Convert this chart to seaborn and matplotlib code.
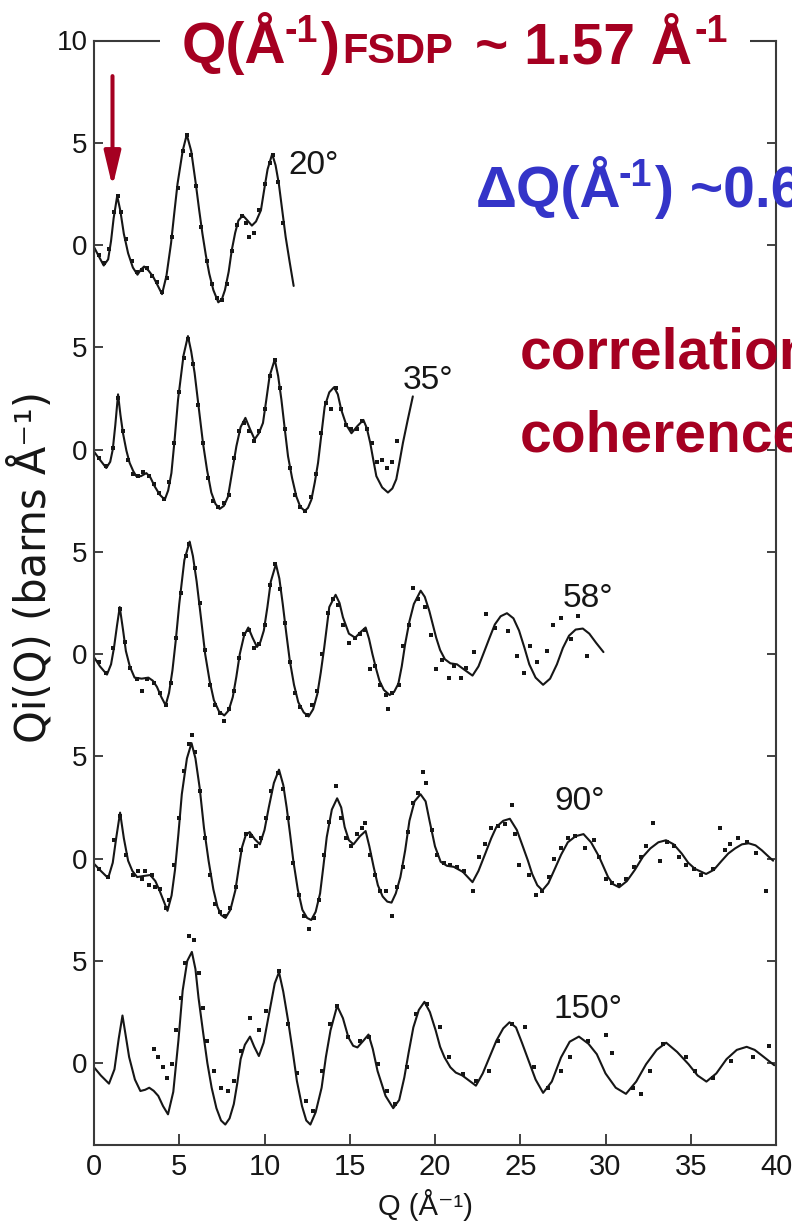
import matplotlib
matplotlib.use("Agg")
import matplotlib.pyplot as plt
import numpy as np
import pandas as pd
import seaborn as sns
from matplotlib import font_manager
from matplotlib.patches import Rectangle, FancyArrowPatch

# ---------------- data: (Q, Qi(Q)) pairs ----------------
ANGLES = ["20°", "35°", "58°", "90°", "150°"]
OFFSETS = [40, 30, 20, 10, 0]

# solid model curves
LINE_20 = [(0, -0.1), (0.25, -0.5), (0.57, -1.0), (0.83, -0.7), (1.0, 0.2), (1.15, 1.3), (1.36, 2.4), (1.54, 1.7),
           (1.75, 0.55), (2.0, -0.4), (2.28, -1.1), (2.55, -1.45), (2.75, -1.2), (2.94, -1.05), (3.2, -1.25),
           (3.47, -1.55), (3.75, -2.0), (3.99, -2.4), (4.25, -1.5), (4.52, 0.1), (4.7, 1.5), (4.9, 3.0), (5.2, 4.6),
           (5.44, 5.4), (5.7, 4.6), (5.97, 3.0), (6.17, 1.7), (6.36, 0.55), (6.56, -0.5), (6.76, -1.4), (7.0, -2.2),
           (7.29, -2.8), (7.5, -2.65), (7.68, -2.2), (7.9, -1.3), (8.08, -0.25), (8.28, 0.6), (8.47, 1.2),
           (8.73, 1.45), (9.0, 1.2), (9.26, 0.95), (9.5, 1.15), (9.79, 1.7), (10.0, 2.8), (10.18, 3.7),
           (10.45, 4.45), (10.65, 3.9), (10.84, 3.0), (11.04, 1.7), (11.24, 0.4), (11.47, -0.8), (11.71, -2.0)]

LINE_35 = [(0, -0.1), (0.35, -0.5), (0.72, -0.9), (0.95, -0.6), (1.1, 0.0), (1.25, 1.2), (1.41, 2.7), (1.55, 1.7),
           (1.7, 0.8), (1.9, -0.05), (2.09, -0.65), (2.3, -1.05), (2.48, -1.3), (2.75, -1.3), (3.07, -1.15),
           (3.3, -1.35), (3.56, -1.8), (3.85, -2.2), (4.15, -2.45), (4.35, -2.0), (4.54, -1.15), (4.73, 0.5),
           (4.93, 2.45), (5.25, 4.6), (5.51, 5.55), (5.7, 4.8), (5.9, 3.75), (6.15, 2.0), (6.39, 0.33),
           (6.63, -1.0), (6.88, -2.1), (7.12, -2.65), (7.37, -2.9), (7.62, -2.75), (7.86, -2.3), (8.1, -1.1),
           (8.35, 0.16), (8.6, 1.1), (8.88, 1.55), (9.15, 1.0), (9.42, 0.5), (9.67, 0.8), (9.91, 1.3), (10.1, 2.4),
           (10.3, 3.6), (10.6, 4.4), (10.8, 3.6), (10.99, 2.45), (11.19, 1.0), (11.38, -0.33), (11.62, -1.4),
           (11.87, -2.3), (12.1, -2.8), (12.36, -3.0), (12.55, -2.85), (12.75, -2.45), (12.95, -1.6),
           (13.14, -0.65), (13.33, 0.7), (13.53, 2.1), (13.8, 2.8), (14.08, 3.05), (14.3, 2.7), (14.5, 1.95),
           (14.8, 1.2), (15.1, 0.8), (15.45, 1.15), (15.8, 1.45), (16.0, 1.05), (16.2, 0.33), (16.38, -0.5),
           (16.56, -1.3), (16.9, -1.85), (17.24, -2.1), (17.5, -1.9), (17.73, -1.45), (17.92, -0.6), (18.12, 0.33),
           (18.4, 1.45), (18.7, 2.6)]

LINE_58 = [(0, -0.15), (0.35, -0.6), (0.76, -1.0), (1.0, -0.5), (1.17, 0.3), (1.35, 1.4), (1.51, 2.3), (1.7, 1.2),
           (1.87, 0.15), (2.1, -0.6), (2.38, -1.15), (2.8, -1.2), (3.19, -1.15), (3.45, -1.3), (3.69, -1.6),
           (3.95, -2.1), (4.2, -2.5), (4.4, -1.9), (4.6, -0.8), (4.8, 0.7), (5.0, 2.45), (5.3, 4.6), (5.61, 5.5),
           (5.8, 4.8), (6.02, 3.55), (6.27, 1.8), (6.52, 0.0), (6.78, -1.3), (7.03, -2.25), (7.33, -2.8),
           (7.64, -3.0), (7.9, -2.75), (8.14, -2.1), (8.35, -1.1), (8.55, 0.0), (8.8, 0.9), (9.05, 1.3), (9.3, 0.8),
           (9.56, 0.35), (9.76, 0.6), (9.96, 1.15), (10.17, 2.3), (10.37, 3.55), (10.67, 4.4), (10.87, 3.7),
           (11.07, 2.45), (11.28, 1.0), (11.48, -0.3), (11.73, -1.5), (11.98, -2.35), (12.3, -2.85), (12.59, -3.05),
           (12.85, -2.7), (13.1, -1.95), (13.3, -0.9), (13.5, 0.3), (13.8, 2.3), (14.17, 2.9), (14.4, 2.5),
           (14.6, 1.8), (14.95, 1.0), (15.32, 0.8), (15.6, 1.05), (15.93, 1.3), (16.13, 0.75), (16.33, 0.0),
           (16.54, -0.7), (16.74, -1.3), (17.0, -1.75), (17.34, -2.0), (17.6, -1.85), (17.85, -1.45), (18.05, -0.6),
           (18.25, 0.5), (18.5, 1.6), (18.76, 2.45), (19.16, 3.1), (19.4, 2.8), (19.67, 2.1), (20.07, 0.8),
           (20.3, 0.2), (20.58, -0.25), (20.9, -0.45), (21.29, -0.5), (21.7, -0.75), (22.2, -1.05), (22.55, -0.6),
           (22.9, 0.15), (23.2, 0.8), (23.51, 1.45), (23.85, 1.85), (24.22, 2.0), (24.6, 1.75), (24.93, 1.15),
           (25.25, 0.3), (25.53, -0.5), (25.9, -1.15), (26.34, -1.5), (26.75, -1.2), (27.15, -0.5), (27.5, 0.3),
           (27.86, 0.9), (28.25, 1.2), (28.67, 1.25), (29.05, 1.0), (29.45, 0.55), (29.88, 0.1)]

LINE_90 = [(0, -0.25), (0.4, -0.6), (0.83, -0.95), (1.1, -0.2), (1.3, 1.0), (1.53, 2.25), (1.75, 1.0), (2.0, -0.1),
           (2.25, -0.6), (2.53, -0.9), (2.9, -0.85), (3.3, -0.8), (3.6, -1.1), (3.84, -1.55), (4.1, -2.1),
           (4.31, -2.55), (4.55, -1.8), (4.75, -0.55), (4.95, 1.2), (5.15, 3.15), (5.45, 4.9), (5.72, 5.65),
           (5.95, 4.9), (6.2, 3.45), (6.45, 1.5), (6.72, -0.1), (7.0, -1.5), (7.24, -2.35), (7.45, -2.75),
           (7.71, -2.9), (8.0, -2.5), (8.29, -1.55), (8.5, -0.4), (8.68, 0.55), (8.9, 1.15), (9.13, 1.3),
           (9.43, 0.95), (9.73, 0.7), (10.0, 1.4), (10.25, 2.5), (10.55, 3.7), (10.85, 4.35), (11.1, 3.6),
           (11.3, 2.5), (11.5, 1.2), (11.69, -0.1), (11.95, -1.5), (12.22, -2.5), (12.5, -2.9), (12.74, -3.0),
           (13.0, -2.6), (13.26, -1.7), (13.45, -0.4), (13.65, 1.05), (13.95, 2.4), (14.26, 2.95), (14.5, 2.5),
           (14.7, 1.55), (14.95, 0.9), (15.22, 0.7), (15.6, 1.1), (15.93, 1.35), (16.15, 0.6), (16.4, -0.4),
           (16.65, -1.3), (16.93, -1.85), (17.2, -2.1), (17.45, -2.15), (17.7, -1.7), (17.97, -0.9), (18.25, 0.4),
           (18.5, 1.85), (18.8, 2.8), (19.15, 3.15), (19.45, 2.8), (19.68, 1.85), (20.0, 0.6), (20.33, -0.15),
           (20.7, -0.35), (21.1, -0.4), (21.64, -0.65), (22.2, -1.15), (22.55, -0.6), (22.95, 0.25), (23.3, 1.0),
           (23.6, 1.55), (24.0, 1.85), (24.39, 1.95), (24.8, 1.4), (25.17, 0.55), (25.45, -0.1), (25.7, -0.75),
           (26.0, -1.3), (26.3, -1.55), (26.65, -1.2), (27.0, -0.55), (27.4, 0.2), (27.79, 0.8), (28.25, 1.1),
           (28.71, 1.2), (29.15, 0.8), (29.62, 0.1), (30.15, -0.9), (30.45, -1.25), (30.8, -1.4), (31.25, -1.1),
           (31.72, -0.55), (32.2, 0.1), (32.63, 0.5), (33.1, 0.8), (33.55, 0.9), (34.0, 0.7), (34.47, 0.25),
           (34.85, -0.2), (35.25, -0.5), (35.9, -0.75), (36.35, -0.55), (36.82, -0.1), (37.2, 0.25), (37.6, 0.5),
           (38.0, 0.7), (38.4, 0.75), (38.8, 0.65), (39.18, 0.4), (39.5, 0.15), (39.83, -0.1)]

LINE_150 = [(0, -0.2), (0.4, -0.6), (0.88, -1.0), (1.2, -0.3), (1.45, 1.2), (1.67, 2.33), (1.85, 1.4), (2.06, 0.3),
            (2.4, -0.8), (2.72, -1.36), (3.0, -1.3), (3.24, -1.2), (3.5, -1.35), (3.77, -1.6), (4.05, -2.1),
            (4.34, -2.5), (4.65, -1.4), (4.95, 1.1), (5.2, 3.55), (5.47, 5.0), (5.74, 5.44), (5.95, 4.6), (6.13, 3.2),
            (6.4, 1.5), (6.65, 0.0), (6.9, -1.2), (7.18, -2.2), (7.45, -2.8), (7.7, -3.0), (7.95, -2.7), (8.2, -2.0),
            (8.4, -1.0), (8.6, 0.2), (8.85, 0.9), (9.15, 1.3), (9.4, 0.8), (9.67, 0.35), (9.95, 1.0), (10.33, 2.7),
            (10.6, 3.9), (10.85, 4.45), (11.1, 3.5), (11.38, 2.1), (11.65, 0.6), (11.9, -0.87), (12.2, -2.1),
            (12.45, -2.8), (12.69, -3.0), (13.0, -2.4), (13.35, -1.2), (13.6, 0.3), (13.87, 1.6), (14.26, 2.8),
            (14.6, 2.2), (14.92, 1.26), (15.2, 0.85), (15.45, 0.77), (15.8, 1.1), (16.1, 1.4), (16.35, 0.7),
            (16.63, -0.38), (17.1, -1.6), (17.55, -2.2), (17.9, -1.8), (18.2, -0.7), (18.45, 0.5), (18.73, 1.75),
            (19.05, 2.6), (19.38, 3.0), (19.7, 2.5), (20.04, 1.6), (20.3, 0.8), (20.56, 0.28), (20.9, -0.2),
            (21.22, -0.46), (21.6, -0.6), (22.0, -0.85), (22.4, -1.1), (22.8, -0.5), (23.19, 0.28), (23.6, 1.1),
            (24.0, 1.7), (24.37, 2.0), (24.75, 1.75), (25.1, 1.0), (25.42, 0.28), (25.9, -0.8), (26.34, -1.45),
            (26.85, -0.9), (27.39, 0.28), (27.9, 1.05), (28.44, 1.3), (29.0, 0.95), (29.49, 0.44), (30.0, -0.5),
            (30.6, -1.2), (31.2, -1.5), (31.8, -0.9), (32.38, -0.05), (33.0, 0.65), (33.56, 1.0), (34.2, 0.55),
            (34.87, -0.05), (35.4, -0.6), (35.92, -0.9), (36.5, -0.5), (37.1, 0.2), (37.7, 0.65), (38.28, 0.8),
            (38.75, 0.65), (39.2, 0.36), (39.9, -0.1)]

# measured points (dots)
DOTS_20 = [(0.3, -0.5), (0.6, -0.9), (0.9, -0.2), (1.2, 1.6), (1.4, 2.4), (1.6, 1.6), (1.9, 0.3), (2.2, -0.8),
           (2.5, -1.3), (2.8, -1.2), (3.1, -1.1), (3.4, -1.5), (3.7, -1.8), (4.0, -2.3), (4.3, -1.6), (4.6, 0.4),
           (4.9, 2.8), (5.2, 4.6), (5.45, 5.4), (5.7, 4.4), (6.0, 2.9), (6.3, 0.9), (6.6, -0.8), (6.9, -1.9),
           (7.2, -2.6), (7.5, -2.7), (7.8, -1.9), (8.1, -0.3), (8.4, 1.0), (8.7, 1.4), (8.9, 1.1), (9.1, 0.4),
           (9.4, 0.6), (9.7, 1.7), (10.0, 3.0), (10.3, 4.0), (10.5, 4.4), (10.8, 3.1), (11.1, 1.1)]

DOTS_35 = [(0.3, -0.4), (0.7, -0.8), (1.1, 0.1), (1.4, 2.5), (1.7, 0.9), (2.0, -0.5), (2.3, -1.2), (2.6, -1.3),
           (2.9, -1.1), (3.2, -1.3), (3.5, -1.7), (3.8, -2.1), (4.1, -2.4), (4.4, -1.6), (4.7, 0.3), (5.0, 2.8),
           (5.3, 4.5), (5.5, 5.4), (5.8, 4.2), (6.1, 2.2), (6.4, 0.3), (6.7, -1.4), (7.0, -2.5), (7.3, -2.8),
           (7.6, -2.6), (7.9, -2.2), (8.2, -0.4), (8.5, 0.9), (8.8, 1.3), (9.1, 0.9), (9.4, 0.4), (9.7, 0.9),
           (10.0, 2.0), (10.3, 3.6), (10.6, 4.4), (10.9, 3.0), (11.2, 1.0), (11.5, -0.9), (11.8, -2.2), (12.1, -2.8),
           (12.4, -3.0), (12.7, -2.3), (13.0, -1.2), (13.3, 0.8), (13.6, 2.3), (13.9, 2.0), (14.2, 3.0), (14.5, 2.0),
           (14.8, 1.2), (15.1, 1.0), (15.4, 1.0), (15.7, 1.4), (16.0, 1.0), (16.3, 0.3), (16.6, -0.6), (16.9, -0.5),
           (17.2, -0.9), (17.5, -0.6), (17.8, 0.4)]

DOTS_58 = [(0.3, -0.4), (0.7, -0.9), (1.1, 0.3), (1.5, 2.2), (1.8, 0.6), (2.1, -0.7), (2.5, -1.2), (2.8, -1.8),
           (3.1, -1.2), (3.5, -1.4), (3.9, -1.9), (4.2, -2.5), (4.5, -1.4), (4.8, 0.8), (5.1, 3.0), (5.4, 4.8),
           (5.6, 5.4), (5.9, 4.2), (6.2, 2.5), (6.5, 0.2), (6.8, -1.5), (7.1, -2.5), (7.4, -2.9), (7.64, -3.25),
           (7.9, -2.7), (8.2, -1.8), (8.5, -0.2), (8.8, 1.0), (9.1, 1.2), (9.4, 0.3), (9.7, 0.5), (10.0, 1.4),
           (10.3, 3.4), (10.6, 4.4), (10.9, 3.2), (11.2, 1.5), (11.5, -0.4), (11.8, -1.9), (12.1, -2.6), (12.5, -3.0),
           (12.8, -2.5), (13.1, -1.8), (13.4, 0.0), (13.7, 2.0), (14.0, 2.7), (14.3, 2.4), (14.6, 1.4), (14.95, 0.55),
           (15.3, 0.8), (15.6, 1.0), (15.9, 1.2), (16.2, -0.75), (16.5, -0.6), (16.8, -1.5), (17.1, -2.0),
           (17.24, -2.7), (17.5, -1.9), (17.9, -1.5), (18.15, 0.4), (18.45, 1.4), (18.7, 3.25), (19.0, 2.7),
           (19.4, 2.3), (19.77, 0.95), (20.07, -0.75), (20.4, -0.3), (20.8, -1.15), (21.1, -0.6), (21.5, -1.15),
           (21.8, -0.7), (22.3, 0.1), (23.0, 1.95), (23.5, 1.3), (24.3, 1.15), (24.8, -0.1), (25.2, -0.9), (25.6, 0.4),
           (26.0, -0.4), (26.55, 0.15), (26.95, 1.4), (27.4, 1.75), (27.97, 0.75), (28.4, 1.85), (28.9, -0.1)]

DOTS_90 = [(0.3, -0.5), (0.8, -0.9), (1.2, 0.9), (1.5, 2.1), (1.9, 0.2), (2.3, -0.8), (2.6, -0.6), (2.8, -1.0),
           (3.0, -0.6), (3.2, -1.3), (3.4, -0.8), (3.6, -1.4), (3.9, -1.5), (4.2, -2.4), (4.4, -2.0), (4.7, -0.3),
           (5.0, 2.0), (5.3, 4.3), (5.6, 5.6), (5.72, 6.05), (5.9, 5.2), (6.2, 3.3), (6.5, 1.0), (6.8, -0.8),
           (7.1, -2.2), (7.4, -2.6), (7.7, -2.8), (8.0, -2.4), (8.3, -1.4), (8.6, 0.4), (8.9, 1.2), (9.2, 1.1),
           (9.5, 0.6), (9.8, 1.0), (10.1, 2.0), (10.4, 3.3), (10.8, 4.2), (11.1, 3.4), (11.4, 2.0), (11.7, -0.2),
           (12.0, -1.8), (12.3, -2.8), (12.6, -3.45), (12.9, -2.9), (13.2, -2.0), (13.5, 0.2), (13.8, 1.8),
           (14.2, 3.55), (14.5, 2.0), (14.8, 1.0), (15.1, 0.6), (15.4, 1.2), (15.7, 1.5), (15.9, 1.75), (16.2, 0.2),
           (16.5, -0.8), (16.8, -1.6), (17.1, -1.6), (17.45, -2.8), (17.8, -1.4), (18.1, -0.4), (18.4, 1.3),
           (18.7, 2.7), (19.0, 3.2), (19.3, 4.25), (19.5, 3.7), (19.8, 1.4), (20.1, 0.2), (20.5, -0.2), (20.9, -0.3),
           (21.3, -0.4), (21.7, -0.6), (22.2, -1.6), (22.6, 0.1), (22.95, 0.7), (23.3, 1.5), (23.7, 1.6), (24.1, 1.7),
           (24.5, 2.6), (24.7, 1.2), (24.9, -0.3), (25.5, -0.8), (25.9, -1.8), (26.3, -1.6), (26.7, -0.9), (27.0, 0.0),
           (27.4, 0.5), (27.8, 1.0), (28.2, 1.1), (28.8, 0.5), (29.3, 0.9), (29.6, 0.1), (30.0, -1.0), (30.4, -1.2),
           (30.8, -1.3), (31.2, -1.0), (31.7, -0.4), (32.1, 0.1), (32.4, 0.6), (32.8, 1.75), (33.2, -0.1),
           (33.6, 0.8), (34.0, 0.6), (34.3, 0.1), (34.7, -0.3), (35.2, -0.5), (35.6, -0.8), (36.3, -0.5), (36.7, 1.5),
           (37.0, 0.4), (37.3, 0.7), (37.8, 1.0), (38.3, 0.8), (38.8, 0.3), (39.4, -1.6)]

DOTS_150 = [(3.5, 0.69), (3.77, 0.28), (4.03, -0.2), (4.3, -0.7), (4.55, -0.05), (4.82, 1.6), (5.08, 3.2),
            (5.34, 4.9), (5.6, 6.2), (5.87, 6.0), (6.13, 4.4), (6.39, 2.7), (6.65, 1.1), (7.05, -0.38), (7.44, -1.2),
            (7.84, -1.36), (8.23, -0.87), (8.62, 0.6), (9.15, 2.2), (9.67, 1.6), (10.07, 2.57), (10.85, 4.5),
            (11.38, 1.9), (11.9, -0.5), (12.43, -1.85), (12.82, -2.35), (13.35, -0.38), (13.87, 1.9), (14.26, 2.8),
            (14.92, 1.26), (15.58, 1.1), (16.1, 1.26), (16.63, -0.05), (17.16, -1.36), (17.68, -2.0), (18.33, -0.2),
            (18.86, 2.4), (19.52, 2.9), (20.3, 1.75), (20.83, 0.28), (21.62, -0.54), (22.4, -0.87), (23.19, -0.38),
            (23.7, 1.1), (24.5, 1.9), (25.29, 1.75), (25.8, -0.2), (26.6, -1.2), (27.39, -0.38), (27.91, 0.28),
            (28.96, 1.1), (30.0, 1.4), (30.4, 0.52), (31.6, -1.2), (32.1, -1.5), (32.6, -0.38), (33.4, 0.93),
            (34.7, 0.28), (35.26, -0.38), (36.3, -0.7), (37.35, 0.1), (38.66, 0.28), (39.6, 0.85)]

LINES = {"20°": LINE_20, "35°": LINE_35, "58°": LINE_58, "90°": LINE_90, "150°": LINE_150}
DOTS = {"20°": DOTS_20, "35°": DOTS_35, "58°": DOTS_58, "90°": DOTS_90, "150°": DOTS_150}

X_TICKS = [0, 5, 10, 15, 20, 25, 30, 35, 40]
Y_TICKS = [0, 5, 10, 15, 20, 25, 30, 35, 40, 45, 50]
Y_TICK_LABELS = ["0", "5", "0", "5", "0", "5", "0", "5", "0", "5", "10"]

# ---------------- style ----------------
sns.set_style("white")
names = {f.name for f in font_manager.fontManager.ttflist}
NARROW = "Liberation Sans Narrow" if "Liberation Sans Narrow" in names else "Liberation Sans"
plt.rcParams["font.family"] = ["Liberation Sans", "DejaVu Sans"]
plt.rcParams["axes.unicode_minus"] = False

RED = "#A50021"
BLUE = "#3434C8"
INK = "#161616"

W, H = 792, 1227
fig = plt.figure(figsize=(W / 100, H / 100), dpi=100)
ax = fig.add_axes([94 / W, 82 / H, 682 / W, 1104.5 / H])

line_rows, dot_rows = [], []
for ang, off in zip(ANGLES, OFFSETS):
    for q, v in LINES[ang]:
        line_rows.append({"panel": ang, "Q": q, "y": v + off})
    for q, v in DOTS[ang]:
        dot_rows.append({"panel": ang, "Q": q, "y": v + off})
lines_df = pd.DataFrame(line_rows)
dots_df = pd.DataFrame(dot_rows)

sns.lineplot(data=lines_df, x="Q", y="y", units="panel", estimator=None, sort=False,
             color=INK, lw=1.5, ax=ax, legend=False)
sns.scatterplot(data=dots_df, x="Q", y="y", color=INK, s=9, marker="s", linewidth=0,
                ax=ax, legend=False, zorder=3)

ax.set_xlim(0, 40)
ax.set_ylim(-4, 50)
ax.set_xticks(X_TICKS)
ax.set_xticklabels([str(t) for t in X_TICKS])
ax.set_yticks(Y_TICKS)
ax.set_yticklabels(Y_TICK_LABELS)
ax.tick_params(axis="both", direction="in", width=1.3, color="#333333", labelcolor=INK)
ax.tick_params(axis="x", length=8, pad=6, labelsize=21, bottom=True, top=False)
ax.tick_params(axis="y", length=6.5, pad=4.5, labelsize=20, left=True, right=True)
for lab in ax.get_xticklabels() + ax.get_yticklabels():
    lab.set_fontfamily([NARROW, "DejaVu Sans"])
for side in ["left", "right", "top", "bottom"]:
    ax.spines[side].set_visible(True)
    ax.spines[side].set_linewidth(1.5)
    ax.spines[side].set_color("#3a3a3a")

ax.set_xlabel("Q (Å⁻¹)", fontsize=21, family=[NARROW, "DejaVu Sans"], color=INK)
ax.xaxis.set_label_coords(0.486, -0.040)
ax.set_ylabel("Qi(Q) (barns Å⁻¹)", fontsize=30, family=["DejaVu Sans"], color=INK)
ax.yaxis.set_label_coords(-0.058, 0.523)

# angle labels
ANGLE_POS = {"20°": (12.85, 43.9), "35°": (19.6, 33.4), "58°": (29.0, 22.7), "90°": (28.5, 12.8),
             "150°": (29.0, 2.64)}
for ang in ANGLES:
    x, y = ANGLE_POS[ang]
    ax.text(x, y, ang, ha="center", va="center", fontsize=24, color=INK,
            family=["Liberation Sans", "DejaVu Sans"])

# red arrow pointing at the FSDP
arrow = FancyArrowPatch((1.085, 48.26), (1.085, 42.84),
                        arrowstyle="-|>,head_length=21,head_width=5", mutation_scale=1,
                        lw=2.9, color=RED, shrinkA=0, shrinkB=0, zorder=6)
ax.add_patch(arrow)

# white box hiding the top frame behind the title
fig.add_artist(Rectangle((160 / W, 1 - 52 / H), (750 - 160) / W, 22 / H, transform=fig.transFigure,
                         facecolor="white", edgecolor="none", zorder=5))


def put(txt, xpx, ypx, size, color):
    fig.text(xpx / W, 1 - ypx / H, txt, ha="left", va="baseline", fontsize=size, color=color,
             fontweight="bold", family=["Liberation Sans", "DejaVu Sans"], zorder=6)


put("Q(Å", 182, 63, 41, RED)
put("-1", 285, 42, 27, RED)
put(")", 321, 63, 41, RED)
put("FSDP", 342, 63, 30, RED)
put("~ 1.57 Å", 475, 63, 41, RED)
put("-1", 695, 42, 27, RED)

put("ΔQ(Å", 476, 207, 41, BLUE)
put("-1", 619, 186, 27, BLUE)
put(") ~0.6", 655, 207, 41, BLUE)

put("correlation", 520, 368, 41, RED)
put("coherence", 520, 452, 41, RED)

fig.savefig("out.png", dpi=100, facecolor="white")
